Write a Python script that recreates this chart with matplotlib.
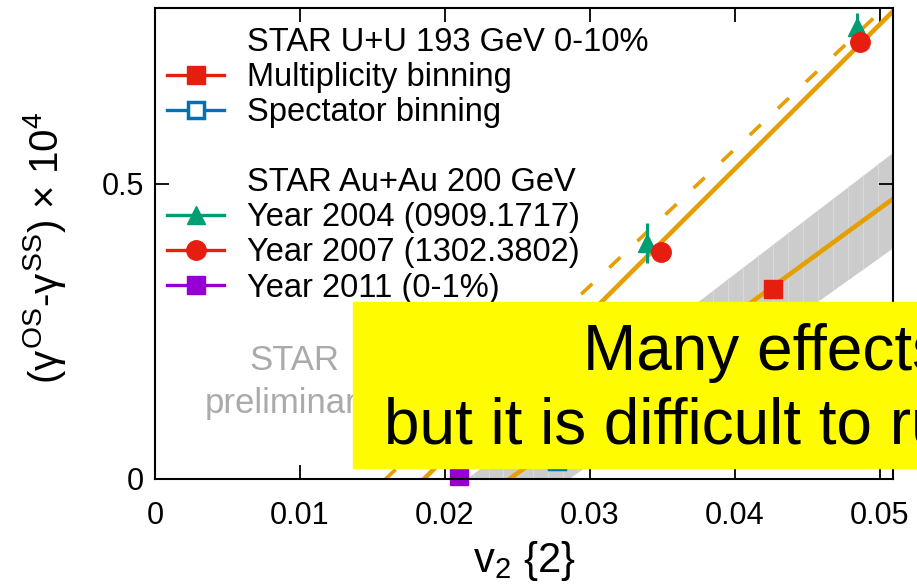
import matplotlib
matplotlib.use('Agg')
import matplotlib.pyplot as plt
import numpy as np
from matplotlib.lines import Line2D
from matplotlib.patches import Rectangle

plt.rcParams['font.family'] = ['Liberation Sans', 'DejaVu Sans']
plt.rcParams['mathtext.fontset'] = 'custom'
plt.rcParams['mathtext.rm'] = 'Liberation Sans'
plt.rcParams['mathtext.it'] = 'Liberation Sans'

# 数据: v2{2} 与 (gamma_OS - gamma_SS) x 10^4
au2004_v2 = [0.0339, 0.0484]
au2004_dg = [0.400, 0.766]
au2004_err = [0.034, 0.024]

au2007_v2 = [0.0349, 0.0486]
au2007_dg = [0.385, 0.741]

au2011_v2 = [0.0210]
au2011_dg = [0.005]

uu_mult_v2 = [0.0426]
uu_mult_dg = [0.322]

uu_spec_v2 = [0.0277]
uu_spec_dg = [0.030]

# 线性拟合 y = k (x - x0)
fit_au = (24.5, 0.01855)        # 实线 (Au+Au)
fit_au_dash = (23.2, 0.0159)    # 虚线
fit_uu = (17.95, 0.02445)       # 实线 (U+U)
band_uu_hi = (18.8, 0.02145)    # 灰带上沿
band_uu_lo = (17.5, 0.0285)     # 灰带下沿

RED = '#e51e10'
GREEN = '#009e73'
BLUE = '#0072b2'
PURPLE = '#9400d3'
ORANGE = '#e69f00'

fig = plt.figure(figsize=(9.17, 5.85), dpi=100)
ax = fig.add_axes([155/917, 1-479/585, 738/917, 471/585])
ax.set_xlim(0, 0.0509)
ax.set_ylim(0, 0.798)

def line(p, x):
    return p[0] * (np.asarray(x) - p[1])

# 灰带 + 竖条纹
xb = np.linspace(0.0195, 0.0509, 200)
ax.fill_between(xb, line(band_uu_lo, xb), line(band_uu_hi, xb),
                color='#cccccc', lw=0, zorder=1)
xs = np.arange(0.0199, 0.0509, 0.001034)
ax.vlines(xs, line(band_uu_lo, xs), line(band_uu_hi, xs),
          color='#d9d9d9', lw=0.8, zorder=1.1)

xl = np.array([0.0, 0.0509])
ax.plot(xl, line(fit_au, xl), color=ORANGE, lw=3.3, zorder=2)
ax.plot(xl, line(fit_au_dash, xl), color=ORANGE, lw=2.6, ls=(0, (4.2, 6.5)), zorder=2)
ax.plot(xl, line(fit_uu, xl), color=ORANGE, lw=3.3, zorder=2)

# 数据点
ax.errorbar(au2004_v2, au2004_dg, yerr=au2004_err, fmt='^', color=GREEN,
            ms=13, elinewidth=2.2, capsize=0, zorder=4, clip_on=False)
ax.plot(au2007_v2, au2007_dg, 'o', color=RED, ms=14, zorder=5, clip_on=False)
ax.plot(uu_mult_v2, uu_mult_dg, 's', color=RED, ms=13.5, zorder=5, clip_on=False)
ax.plot(uu_spec_v2, uu_spec_dg, 's', mfc='white', mec=BLUE, mew=2.5, ms=12,
        zorder=5, clip_on=False)
ax.plot(au2011_v2, au2011_dg, 's', color=PURPLE, ms=13.5, zorder=5, clip_on=False)

# 坐标轴
ax.set_xticks([0, 0.01, 0.02, 0.03, 0.04, 0.05])
ax.set_xticklabels(['0', '0.01', '0.02', '0.03', '0.04', '0.05'])
ax.set_yticks([0, 0.5])
ax.set_yticklabels(['0', '0.5'])
ax.tick_params(direction='in', length=10, width=1.3, labelsize=22,
               top=True, right=True)
ax.tick_params(axis='x', pad=16)
ax.tick_params(axis='y', pad=8)
for s in ax.spines.values():
    s.set_linewidth(1.5)
    s.set_zorder(6)

fig.text(524/917, 1-561/585, r'v$_2$ $\{2\}$', fontsize=30, ha='center', va='center')
fig.text(45/917, 1-248/585, r'($\gamma^{OS}$-$\gamma^{SS}$) $\times$ 10$^4$',
         fontsize=29, rotation=90, ha='center', va='center')

# 图例
blank = Line2D([], [], color='none')
handles = [
    blank,
    Line2D([], [], color=RED, lw=2.4, marker='s', ms=13.5),
    Line2D([], [], color=BLUE, lw=2.4, marker='s', ms=12, mfc='white', mew=2.5),
    blank,
    blank,
    Line2D([], [], color=GREEN, lw=2.4, marker='^', ms=13),
    Line2D([], [], color=RED, lw=2.4, marker='o', ms=14),
    Line2D([], [], color=PURPLE, lw=2.4, marker='s', ms=13.5),
]
labels = ['STAR U+U 193 GeV 0-10%', 'Multiplicity binning', 'Spectator binning', ' ',
          'STAR Au+Au 200 GeV', 'Year 2004 (0909.1717)', 'Year 2007 (1302.3802)',
          'Year 2011 (0-1%)']
ax.legend(handles, labels, loc='upper left', bbox_to_anchor=(12/738, 1-19/471),
          frameon=False, fontsize=23.5, handlelength=1.75, handletextpad=0.7,
          labelspacing=0.125, borderpad=0, borderaxespad=0)

ax.text(294/917, 1-370/585, 'STAR', transform=fig.transFigure, fontsize=25,
        color='#aaaaaa', ha='center', va='baseline')
ax.text(290/917, 1-413/585, 'preliminary', transform=fig.transFigure, fontsize=25,
        color='#aaaaaa', ha='center', va='baseline')

# 黄色提示框
fig.patches.append(Rectangle((353/917, 1-468/585), 1-353/917, 166/585,
                             transform=fig.transFigure, color='#fffb00', zorder=10))
fig.text(583/917, 1-370/585, 'Many effects', fontsize=46, ha='left',
         va='baseline', zorder=11)
fig.text(384/917, 1-443/585, 'but it is difficult to rule', fontsize=46, ha='left',
         va='baseline', zorder=11)

fig.savefig('out.png', dpi=100)
